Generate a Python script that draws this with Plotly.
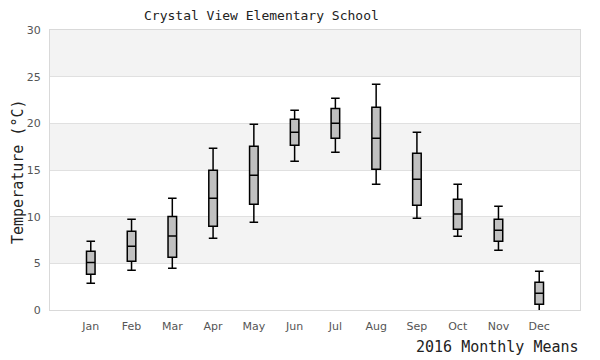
import plotly.graph_objects as go

months = ["Jan", "Feb", "Mar", "Apr", "May", "Jun", "Jul", "Aug", "Sep", "Oct", "Nov", "Dec"]
lower = [2.86, 4.25, 4.46, 7.68, 9.39, 15.93, 16.89, 13.46, 9.82, 7.89, 6.39, -0.25]
q1 = [3.82, 5.21, 5.64, 8.96, 11.32, 17.64, 18.39, 15.07, 11.21, 8.64, 7.36, 0.61]
median = [5.10, 6.82, 7.93, 11.96, 14.43, 19.04, 20.00, 18.39, 14.00, 10.29, 8.54, 1.79]
q3 = [6.29, 8.43, 10.03, 14.96, 17.54, 20.43, 21.60, 21.71, 16.79, 11.86, 9.71, 2.96]
upper = [7.36, 9.71, 11.96, 17.32, 19.89, 21.39, 22.68, 24.18, 19.04, 13.46, 11.11, 4.14]
y_ticks = [0, 5, 10, 15, 20, 25, 30]
bands = [(5, 10), (15, 20), (25, 30)]

xs = list(range(len(months)))
fig = go.Figure()
fig.add_trace(go.Box(
    x=xs, q1=q1, median=median, q3=q3, lowerfence=lower, upperfence=upper,
    fillcolor="#c0c0c0", line=dict(color="#000000", width=1.5),
    width=0.21, whiskerwidth=1, boxpoints=False, hoverinfo="skip",
))

for lo, hi in bands:
    fig.add_shape(type="rect", xref="paper", x0=0, x1=1, yref="y", y0=lo, y1=hi,
                  fillcolor="#f3f3f3", line_width=0, layer="below")

mono = "DejaVu Sans Mono"
fig.update_layout(
    width=600, height=360,
    margin=dict(l=42, r=28, t=22, b=58),
    paper_bgcolor="white", plot_bgcolor="white",
    showlegend=False,
    font=dict(family="DejaVu Sans", size=11, color="#555555"),
    xaxis=dict(range=[-1, 12], tickvals=xs, ticktext=months, showgrid=False,
               zeroline=False, showline=True, linecolor="#d9d9d9", linewidth=1, mirror=True,
               ticks="outside", ticklen=6, tickcolor="rgba(0,0,0,0)", automargin=False,
               tickfont=dict(size=11, color="#555555")),
    yaxis=dict(range=[0, 30], tickvals=y_ticks, showgrid=True, gridcolor="#e0e0e0", gridwidth=1,
               zeroline=False, showline=True, linecolor="#d9d9d9", linewidth=1, mirror=True,
               ticks="outside", ticklen=6, tickcolor="rgba(0,0,0,0)", automargin=False,
               tickfont=dict(size=11, color="#555555")),
    annotations=[
        dict(text="Crystal View Elementary School", xref="paper", yref="paper",
             x=(261 - 50) / 530, y=1, yshift=15, xanchor="center", yanchor="middle",
             showarrow=False, font=dict(family=mono, size=13, color="#222222")),
        dict(text="2016 Monthly Means", xref="paper", yref="paper",
             x=1, xshift=1, y=0, yshift=-37, xanchor="right", yanchor="middle",
             showarrow=False, font=dict(family=mono, size=15, color="#222222")),
        dict(text="Temperature (°C)", xref="paper", yref="paper",
             x=0, xshift=-32, y=0.5, yshift=-2, xanchor="center", yanchor="middle", textangle=-90,
             showarrow=False, font=dict(family=mono, size=15, color="#222222")),
    ],
)
fig.write_html("out.html")
